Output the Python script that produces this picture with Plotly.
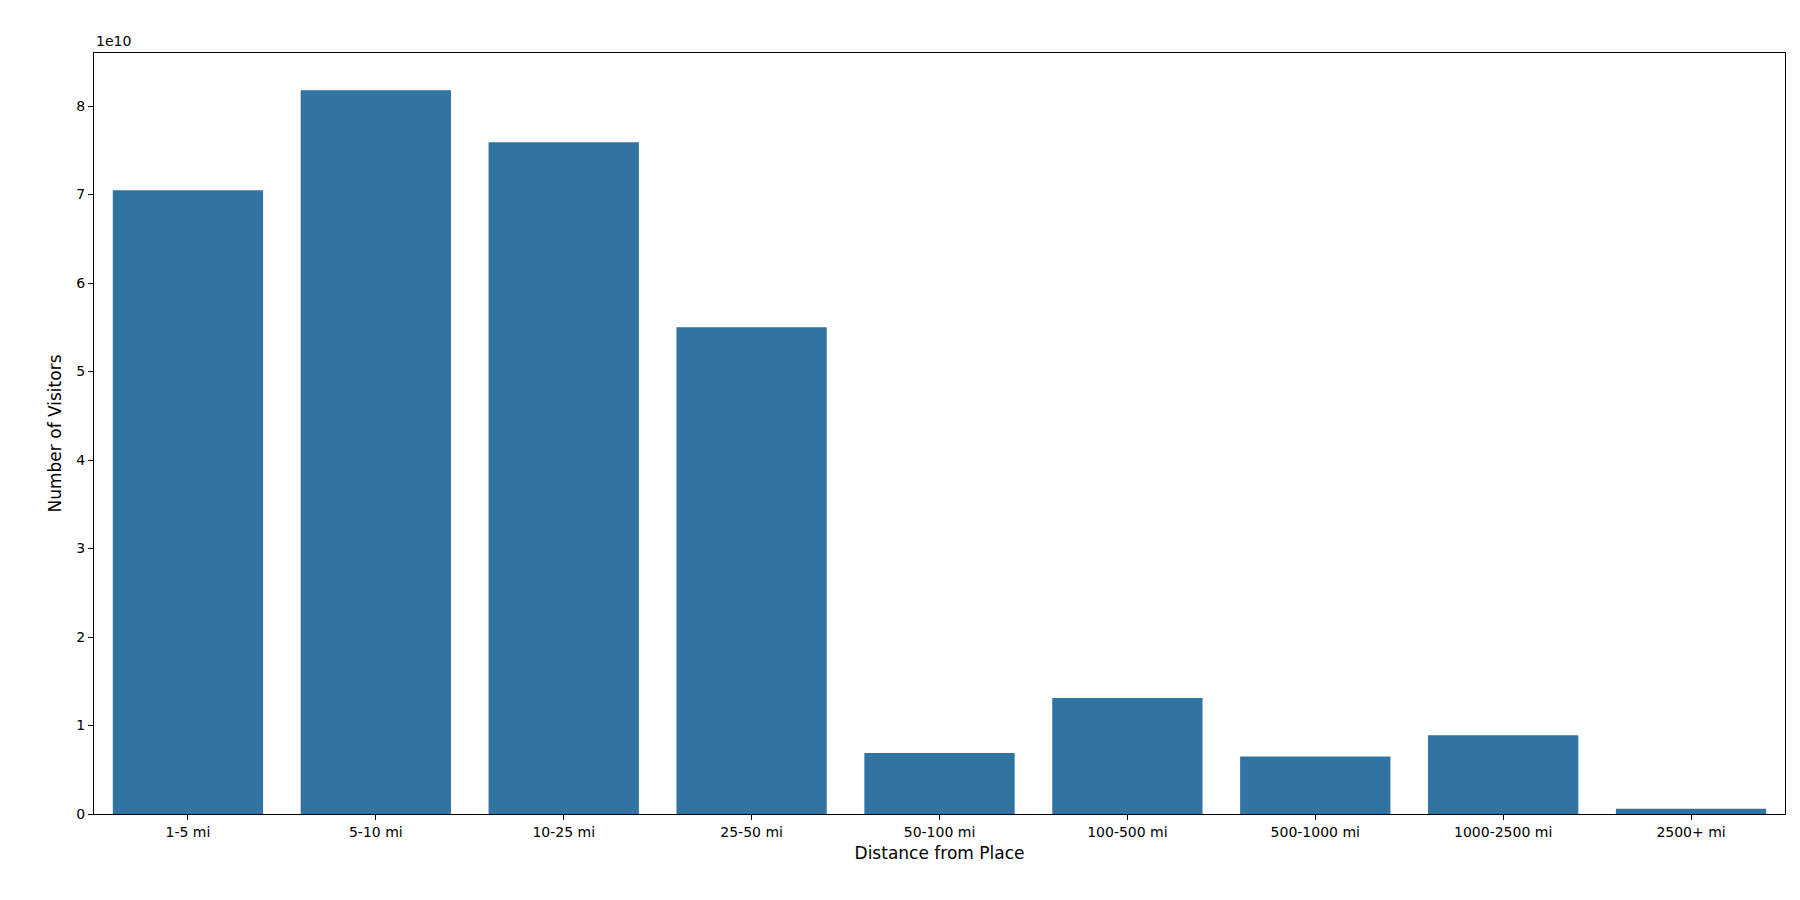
import plotly.graph_objects as go

categories = ["1-5 mi", "5-10 mi", "10-25 mi", "25-50 mi", "50-100 mi", "100-500 mi", "500-1000 mi", "1000-2500 mi", "2500+ mi"]
visitors = [7.05e10, 8.18e10, 7.59e10, 5.50e10, 0.69e10, 1.31e10, 0.65e10, 0.89e10, 0.06e10]
ytick_vals = [i * 1e10 for i in range(9)]
ytick_text = [str(i) for i in range(9)]

fig = go.Figure(go.Bar(x=categories, y=visitors, marker_color="#3274a1", marker_line_width=0, width=0.8))
fig.update_layout(
    width=1800, height=900, plot_bgcolor="white", paper_bgcolor="white",
    margin=dict(l=86, r=23, t=45, b=94),
    font=dict(family="DejaVu Sans", color="black", size=14),
    showlegend=False, bargap=0.2,
)
fig.update_xaxes(title_text="Distance from Place", title_font_size=17, range=[-0.5, 8.5],
                 showline=True, linecolor="black", mirror=True, ticks="outside", ticklen=5, tickcolor="black", title_standoff=8)
fig.update_yaxes(title_text="Number of Visitors", title_font_size=17, range=[0, 8.6e10],
                 tickvals=ytick_vals, ticktext=ytick_text, showgrid=False, zeroline=False,
                 showline=True, linecolor="black", mirror=True, ticks="outside", ticklen=5, tickcolor="black", title_standoff=10)
fig.add_annotation(text="1e10", xref="paper", yref="paper", x=0, y=1, xanchor="left", yanchor="bottom",
                   showarrow=False, font=dict(size=14), yshift=2)
fig.write_html("out.html")
